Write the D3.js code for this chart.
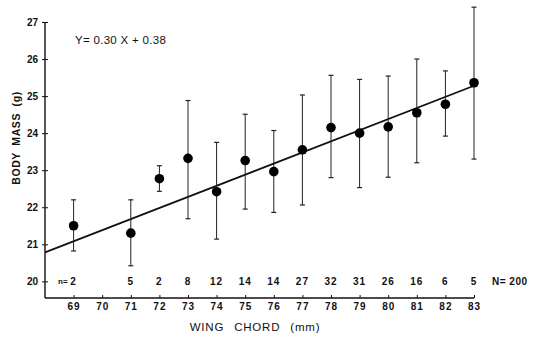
<!DOCTYPE html>
<html>
<head>
<meta charset="utf-8">
<script src="https://cdn.jsdelivr.net/npm/d3@7"></script>
<style>
  body { margin: 0; background: #fff; }
  text { font-family: "Liberation Sans", Arial, sans-serif; fill: #111; }
</style>
</head>
<body>
<div id="chart"></div>
<script>
// wing chord classes (mm) and body mass stats (g)
let chords = [69, 71, 72, 73, 74, 75, 76, 77, 78, 79, 80, 81, 82, 83];
let means  = [21.5, 21.3, 22.77, 23.32, 22.42, 23.26, 22.96, 23.55, 24.15, 24.0, 24.17, 24.55, 24.78, 25.36];
let highs  = [22.2, 22.2, 23.12, 24.88, 23.75, 24.51, 24.07, 25.03, 25.56, 25.45, 25.54, 26.0, 25.68, 27.4];
let lows   = [20.82, 20.42, 22.43, 21.69, 21.14, 21.95, 21.86, 22.06, 22.8, 22.53, 22.81, 23.2, 23.92, 23.3];
let counts = [2, 5, 2, 8, 12, 14, 14, 27, 32, 31, 26, 16, 6, 5];
let xTicks = [69, 70, 71, 72, 73, 74, 75, 76, 77, 78, 79, 80, 81, 82, 83];
let yTicks = [20, 21, 22, 23, 24, 25, 26, 27];
let slope = 0.30, intercept = 0.38;

let width = 538, height = 337;

let x = d3.scaleLinear().domain([68, 83]).range([45, 474]);
let y = d3.scaleLinear().domain([19.55, 27]).range([298, 22]);

let svg = d3.select("#chart")
  .append("svg")
  .attr("width", width)
  .attr("height", height);

// y axis, ticks cross the line
let yAxis = svg.append("g")
  .attr("transform", "translate(" + x(68) + ",0)")
  .call(d3.axisLeft(y).tickValues(yTicks).tickSize(2).tickSizeOuter(0).tickFormat(d3.format("d")));
yAxis.select(".domain").attr("d", "M0," + y(27) + "V" + y(19.55)).attr("stroke-width", 1.4);
yAxis.selectAll(".tick line").attr("x1", 3).attr("x2", -3);
yAxis.selectAll(".tick text")
  .attr("x", -7)
  .attr("font-size", 10)
  .attr("font-weight", "bold")
  .style("font-family", "Liberation Sans, Arial, sans-serif");

// x axis, ticks point up
let xAxis = svg.append("g")
  .attr("transform", "translate(0," + y(19.55) + ")")
  .call(d3.axisBottom(x).tickValues(xTicks).tickSize(-3).tickSizeOuter(0).tickFormat(d3.format("d")));
xAxis.select(".domain").attr("d", "M" + x(68) + ",0H" + x(83)).attr("stroke-width", 1.4);
xAxis.selectAll(".tick text")
  .attr("y", 5)
  .attr("font-size", 10)
  .attr("font-weight", "bold")
  .attr("letter-spacing", 1)
  .style("font-family", "Liberation Sans, Arial, sans-serif");
svg.selectAll(".domain, .tick line").attr("stroke", "#111");

// regression line
svg.append("line")
  .attr("x1", x(68)).attr("y1", y(slope * 68 + intercept))
  .attr("x2", x(83)).attr("y2", y(slope * 83 + intercept))
  .attr("stroke", "#111")
  .attr("stroke-width", 1.8);

let data = chords.map(function (c, i) {
  return { c: c, m: means[i], hi: highs[i], lo: lows[i], n: counts[i] };
});

let node = svg.selectAll(".pt")
  .data(data)
  .enter()
  .append("g")
  .attr("class", "pt");

node.append("line")
  .attr("x1", function (d) { return x(d.c); })
  .attr("x2", function (d) { return x(d.c); })
  .attr("y1", function (d) { return y(d.hi); })
  .attr("y2", function (d) { return y(d.lo); })
  .attr("stroke", "#222")
  .attr("stroke-width", 1);

node.selectAll(".cap")
  .data(function (d) { return [[d.c, d.hi], [d.c, d.lo]]; })
  .enter()
  .append("line")
  .attr("x1", function (d) { return x(d[0]) - 2.5; })
  .attr("x2", function (d) { return x(d[0]) + 2.5; })
  .attr("y1", function (d) { return y(d[1]); })
  .attr("y2", function (d) { return y(d[1]); })
  .attr("stroke", "#222")
  .attr("stroke-width", 1.2);

node.append("circle")
  .attr("cx", function (d) { return x(d.c); })
  .attr("cy", function (d) { return y(d.m); })
  .attr("r", 4.8)
  .attr("fill", "#000");

// sample sizes
node.append("text")
  .attr("x", function (d) { return x(d.c); })
  .attr("y", y(20))
  .attr("dy", "0.35em")
  .attr("text-anchor", "middle")
  .attr("font-size", 10)
  .attr("font-weight", "bold")
  .attr("letter-spacing", 1)
  .text(function (d) { return d.n; });

svg.append("text")
  .attr("x", x(69) - 6)
  .attr("y", y(20))
  .attr("dy", "0.35em")
  .attr("text-anchor", "end")
  .attr("font-size", 8)
  .attr("font-weight", "bold")
  .text("n=");

svg.append("text")
  .attr("x", 492)
  .attr("y", y(20))
  .attr("dy", "0.35em")
  .attr("font-size", 10)
  .attr("font-weight", "bold")
  .attr("letter-spacing", 0.5)
  .text("N= 200");

// equation
svg.append("text")
  .attr("x", 75)
  .attr("y", 40)
  .attr("dy", "0.35em")
  .attr("font-size", 11.5)
  .attr("letter-spacing", 0.3)
  .text("Y= 0.30 X + 0.38");

// axis titles
svg.append("text")
  .attr("transform", "translate(16,138) rotate(-90)")
  .attr("dy", "0.35em")
  .attr("text-anchor", "middle")
  .attr("font-size", 10.5)
  .attr("font-weight", "bold")
  .attr("letter-spacing", 0.6)
  .attr("word-spacing", 3)
  .text("BODY MASS (g)");

svg.append("text")
  .attr("x", 255)
  .attr("y", 327)
  .attr("dy", "0.35em")
  .attr("text-anchor", "middle")
  .attr("font-size", 11.5)
  .attr("letter-spacing", 0.8)
  .attr("word-spacing", 6)
  .text("WING CHORD (mm)");
</script>
</body>
</html>
